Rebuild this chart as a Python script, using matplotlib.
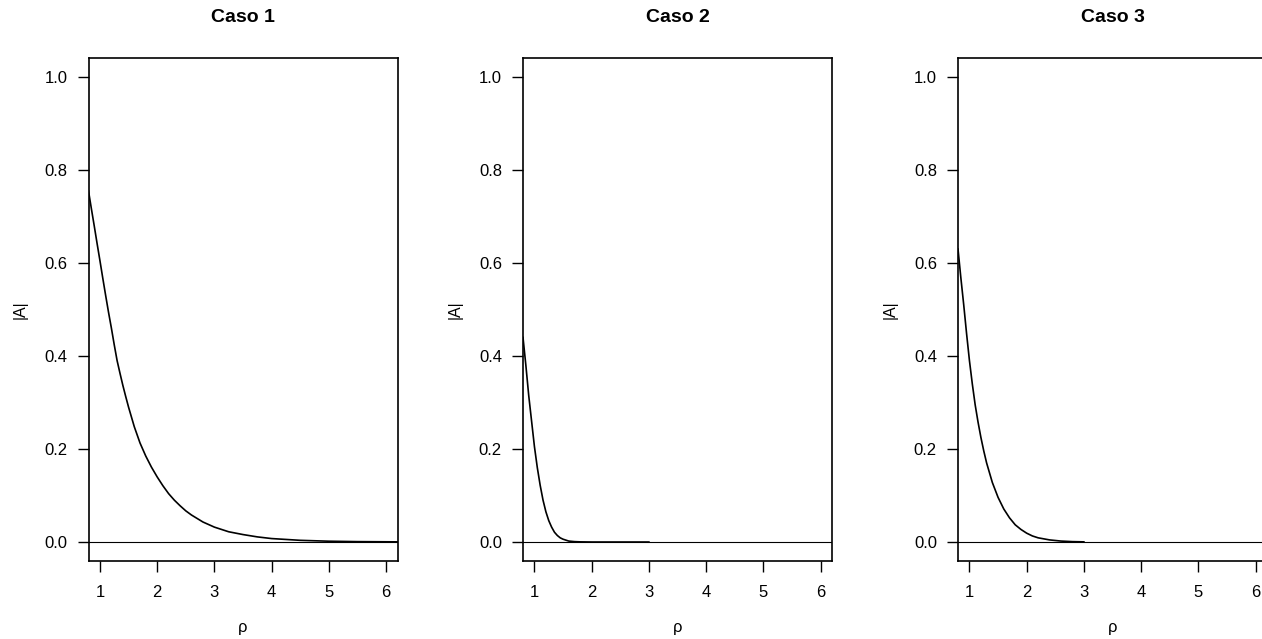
import matplotlib.pyplot as plt

plt.rcParams['font.family'] = ['Liberation Sans', 'DejaVu Sans']

titles = ['Caso 1', 'Caso 2', 'Caso 3']

# |A| against rho
rho_1 = [0.80, 0.85, 0.90, 0.95, 1.00, 1.05, 1.10, 1.15, 1.20, 1.25, 1.30, 1.35,
         1.40, 1.45, 1.50, 1.60, 1.70, 1.80, 1.90, 2.00, 2.10, 2.20, 2.30, 2.40,
         2.50, 2.60, 2.80, 3.00, 3.25, 3.50, 3.75, 4.00, 4.50, 5.00, 5.50, 6.20]
amp_1 = [0.755, 0.717, 0.68, 0.642, 0.605, 0.567, 0.53, 0.494, 0.46, 0.424,
         0.39, 0.363, 0.337, 0.313, 0.29, 0.248, 0.213, 0.185, 0.161, 0.14,
         0.121, 0.104, 0.09, 0.078, 0.067, 0.058, 0.043, 0.032, 0.022, 0.016,
         0.011, 0.0074, 0.0036, 0.0017, 0.0008, 0.0003]

rho_2 = [0.80, 0.85, 0.90, 0.95, 1.00, 1.05, 1.10, 1.15, 1.20, 1.25, 1.30,
         1.35, 1.40, 1.45, 1.50, 1.60, 1.70, 1.80, 2.00, 3.00]
amp_2 = [0.44, 0.38, 0.315, 0.26, 0.205, 0.16, 0.122, 0.09, 0.065, 0.046,
         0.032, 0.021, 0.014, 0.009, 0.006, 0.002, 0.0008, 0.0003, 0.0, 0.0]

rho_3 = [0.80, 0.85, 0.90, 0.95, 1.00, 1.05, 1.10, 1.15, 1.20, 1.25, 1.30,
         1.40, 1.50, 1.60, 1.70, 1.80, 1.90, 2.00, 2.10, 2.20, 2.40, 2.60,
         2.80, 3.00]
amp_3 = [0.63, 0.568, 0.51, 0.448, 0.39, 0.34, 0.295, 0.258, 0.225, 0.196,
         0.17, 0.128, 0.096, 0.071, 0.052, 0.037, 0.027, 0.019, 0.013, 0.009,
         0.0045, 0.002, 0.0008, 0.0003]

series = [(rho_1, amp_1), (rho_2, amp_2), (rho_3, amp_3)]

x_ticks = [1, 2, 3, 4, 5, 6]
y_ticks = [0.0, 0.2, 0.4, 0.6, 0.8, 1.0]

W, H = 1262, 639
fig = plt.figure(figsize=(W / 100, H / 100), dpi=100)

lefts = [88.5, 523, 958]
for left, title, (rho, amp) in zip(lefts, titles, series):
    ax = fig.add_axes([left / W, (H - 560.6) / H, 309 / W, 502.2 / H])
    ax.axhline(0, color='black', linewidth=0.8)
    ax.plot(rho, amp, color='black', linewidth=1.2)
    ax.set_xlim(0.8, 6.2)
    ax.set_ylim(-0.04, 1.04)
    ax.set_xticks(x_ticks)
    ax.set_xticklabels([str(t) for t in x_ticks])
    ax.set_yticks(y_ticks)
    ax.set_yticklabels([f'{t:.1f}' for t in y_ticks])
    for s in ax.spines.values():
        s.set_linewidth(1.2)
    ax.tick_params(axis='x', length=8, width=1, pad=9.5, labelsize=12)
    ax.tick_params(axis='y', length=8, width=1, pad=7.2, labelsize=12)
    ax.set_title(title, fontsize=14, fontweight='bold', y=1.0805, va='center', pad=0)
    ax.set_xlabel('ρ', fontsize=12, va='center')
    ax.xaxis.set_label_coords(0.5, -0.134)
    ax.set_ylabel('|A|', fontsize=11.5, va='center')
    ax.yaxis.set_label_coords(-0.22, 0.5)

plt.savefig('out.png', dpi=100)
